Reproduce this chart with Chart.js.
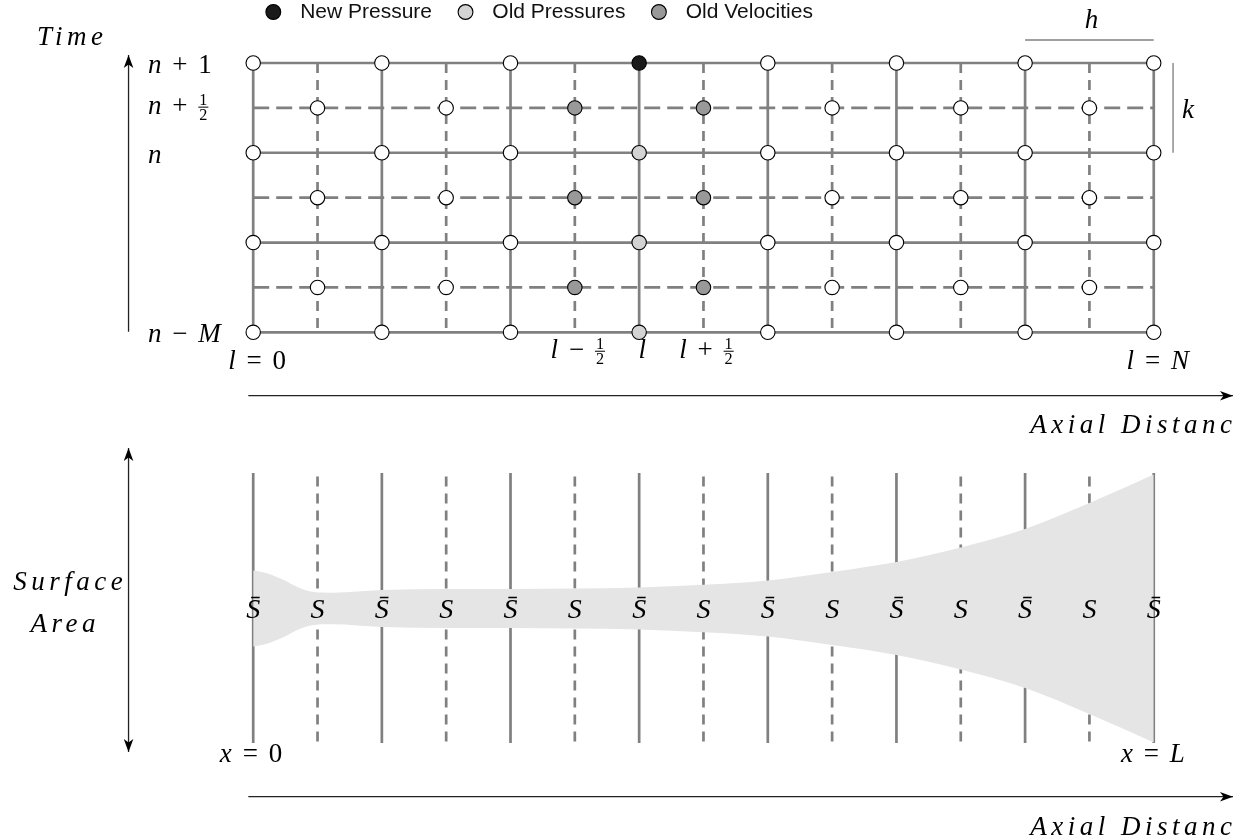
<!DOCTYPE html>
<html>
<head>
<meta charset="utf-8">
<script src="https://cdn.jsdelivr.net/npm/chart.js@4.4.1/dist/chart.umd.min.js"></script>
<style>
  html, body { margin: 0; padding: 0; background: #fff; }
  #wrap { width: 1249px; height: 839px; }
</style>
</head>
<body>
<div id="wrap"><canvas id="grid" width="1249" height="839"></canvas></div>
<script>
// staggered grid: pressure nodes on whole steps, velocity nodes on half steps
const pressureCols = [0, 1, 2, 3, 4, 5, 6, 7];
const velocityCols = [0.5, 1.5, 2.5, 3.5, 4.5, 5.5, 6.5];
const fullSteps = [0, 1, 2, 3];
const halfSteps = [0.5, 1.5, 2.5];

const newPressureL = [3];
const newPressureT = [3];
const oldPressureL = [3, 3, 3];
const oldPressureT = [2, 1, 0];
const oldVelocityL = [2.5, 3.5, 2.5, 3.5, 2.5, 3.5];
const oldVelocityT = [2.5, 2.5, 1.5, 1.5, 0.5, 0.5];

const timeTickValues = [3, 2.5, 2, 0];
const timeTickLabels = ['n + 1', 'n + 1/2', 'n', 'n − M'];
const spaceTickValues = [0, 2.5, 3, 3.5, 7];
const spaceTickLabels = ['l = 0', 'l − 1/2', 'l', 'l + 1/2', 'l = N'];

// bore radius along the horn (lower panel)
const hornX = [0, 0.1, 0.23, 0.37, 0.47, 0.62, 1, 1.5, 2, 2.5, 3, 3.5, 4, 4.5, 5, 5.5, 6, 6.5, 7];
const hornR = [3.8, 3.55, 2.9, 2.0, 1.65, 1.58, 1.85, 1.95, 1.95, 2.0, 2.1, 2.37, 2.8, 3.65, 4.65, 6.1, 7.95, 10.55, 13.4];

const GREY = '#808080';
const serif = "'Liberation Serif', 'Times New Roman', serif";

function pts(ls, ts) { return ls.map((l, i) => ({x: l, y: ts[i]})); }
function isColoured(l, t) {
  const all = pts(newPressureL, newPressureT).concat(pts(oldPressureL, oldPressureT), pts(oldVelocityL, oldVelocityT));
  return all.some(p => p.x === l && p.y === t);
}

const plainNodes = [];
pressureCols.forEach(l => fullSteps.forEach(t => { if (!isColoured(l, t)) plainNodes.push({x: l, y: t}); }));
velocityCols.forEach(l => halfSteps.forEach(t => { if (!isColoured(l, t)) plainNodes.push({x: l, y: t}); }));

function nodeSet(label, data, fill) {
  return {
    label: label, data: data, showLine: false, clip: false,
    pointRadius: 7.2, pointHoverRadius: 7.2, pointBackgroundColor: fill,
    pointBorderColor: '#000', pointBorderWidth: 1.1,
    backgroundColor: fill, borderColor: '#000', borderWidth: 1.1
  };
}
function seg(data, dash, axis) {
  return {
    label: '', data: data, showLine: true, pointRadius: 0, clip: false,
    borderColor: GREY, borderWidth: 2.7, borderDash: dash || [], yAxisID: axis || 'y', fill: false
  };
}

const datasets = [
  nodeSet('New Pressure', pts(newPressureL, newPressureT), '#1a1a1a'),
  nodeSet('Old Pressures', pts(oldPressureL, oldPressureT), '#d3d3d3'),
  nodeSet('Old Velocities', pts(oldVelocityL, oldVelocityT), '#999999'),
  nodeSet('', plainNodes, '#ffffff'),
  {
    label: '', yAxisID: 'y2', data: hornX.map((x, i) => ({x: x, y: hornR[i]})),
    showLine: true, pointRadius: 0, borderWidth: 0, cubicInterpolationMode: 'monotone',
    fill: '+1', backgroundColor: '#e5e5e5', clip: false
  },
  {
    label: '', yAxisID: 'y2', data: hornX.map((x, i) => ({x: x, y: -hornR[i]})),
    showLine: true, pointRadius: 0, borderWidth: 0, cubicInterpolationMode: 'monotone',
    fill: false, clip: false
  }
];

const lFirst = pressureCols[0], lLast = pressureCols[pressureCols.length - 1];
fullSteps.forEach(t => datasets.push(seg([{x: lFirst, y: t}, {x: lLast, y: t}])));
halfSteps.forEach(t => datasets.push(seg([{x: lFirst, y: t}, {x: lLast, y: t}], [16, 7])));
pressureCols.forEach(l => datasets.push(seg([{x: l, y: 0}, {x: l, y: 3}])));
velocityCols.forEach(l => datasets.push(seg([{x: l, y: 3}, {x: l, y: 0}], [10, 7])));
pressureCols.forEach(l => datasets.push(seg([{x: l, y: 13.55}, {x: l, y: -13.45}], [], 'y2')));
velocityCols.forEach(l => datasets.push(seg([{x: l, y: 13.2}, {x: l, y: -13.45}], [10, 7], 'y2')));

function isLetter(p) { return /^[A-Za-z]\u0304?$/.test(p); }

function drawMath(ctx, str, x, base, align, size) {
  const parts = str.split(' ');
  const gap = size * 0.4, small = size * 0.6;
  const widths = parts.map(p => {
    if (p === '1/2') { ctx.font = small + 'px ' + serif; return ctx.measureText('2').width + 2; }
    ctx.font = (isLetter(p) ? 'italic ' : '') + size + 'px ' + serif;
    return ctx.measureText(p).width;
  });
  const total = widths.reduce((a, b) => a + b, 0) + gap * (parts.length - 1);
  let cx = align === 'center' ? x - total / 2 : (align === 'right' ? x - total : x);
  ctx.textAlign = 'left';
  ctx.textBaseline = 'alphabetic';
  parts.forEach((p, i) => {
    if (p === '1/2') {
      const axis = base - size * 0.25;
      ctx.font = small + 'px ' + serif;
      ctx.fillText('1', cx + 1, axis - 2);
      ctx.fillText('2', cx + 1, axis + 13);
      ctx.fillRect(cx, axis - 0.5, widths[i], 1);
    } else {
      ctx.font = (isLetter(p) ? 'italic ' : '') + size + 'px ' + serif;
      ctx.fillText(p, cx, base);
    }
    cx += widths[i] + gap;
  });
}

function drawWord(ctx, str, x, base, align, size) {
  ctx.font = 'italic ' + size + 'px ' + serif;
  ctx.letterSpacing = '4.5px';
  ctx.textAlign = align;
  ctx.textBaseline = 'alphabetic';
  ctx.fillText(str, align === 'right' ? x + 4.5 : x + 2.25, base);
  ctx.letterSpacing = '0px';
}

function arrowHead(ctx, x, y, ang) {
  ctx.save();
  ctx.translate(x, y);
  ctx.rotate(ang);
  ctx.beginPath();
  ctx.moveTo(0, 0);
  ctx.lineTo(-13, -4.8);
  ctx.lineTo(-9.5, 0);
  ctx.lineTo(-13, 4.8);
  ctx.closePath();
  ctx.fill();
  ctx.restore();
}

function arrow(ctx, x1, y1, x2, y2, both) {
  ctx.beginPath();
  ctx.moveTo(x1, y1);
  ctx.lineTo(x2, y2);
  ctx.stroke();
  arrowHead(ctx, x2, y2, Math.atan2(y2 - y1, x2 - x1));
  if (both) arrowHead(ctx, x1, y1, Math.atan2(y1 - y2, x1 - x2));
}

const annotations = {
  id: 'annotations',
  afterDatasetsDraw(chart) {
    const ctx = chart.ctx;
    const X = v => chart.scales.x.getPixelForValue(v);
    const T = v => chart.scales.y.getPixelForValue(v);
    const S = v => chart.scales.y2.getPixelForValue(v);
    ctx.save();
    ctx.fillStyle = '#000';
    ctx.strokeStyle = '#222';
    ctx.lineWidth = 1.3;

    // axes
    arrow(ctx, X(-0.969), T(0.007), X(-0.969), T(3.089));
    arrow(ctx, X(-0.038), T(-0.706), X(7.616), T(-0.706));
    arrow(ctx, X(-0.969), S(16.05), X(-0.969), S(-14.35), true);
    arrow(ctx, X(-0.038), S(-18.82), X(7.616), S(-18.82));

    drawWord(ctx, 'Time', X(-1.424), T(3.2), 'center', 27);
    drawWord(ctx, 'Axial Distanc', X(7.608), T(-1.122), 'right', 27);
    drawWord(ctx, 'Surface', X(-1.44), S(1.85), 'center', 27);
    drawWord(ctx, 'Area', X(-1.478), S(-2.35), 'center', 27);
    drawWord(ctx, 'Axial Distanc', X(7.608), S(-22.65), 'right', 27);

    // tick labels
    timeTickValues.forEach((t, i) => {
      const lab = timeTickLabels[i];
      const off = lab.indexOf('1/2') >= 0 ? 6 : 10;
      drawMath(ctx, lab, X(-0.818), T(t) + off, 'left', 27);
    });
    spaceTickValues.forEach((l, i) => {
      const lab = spaceTickLabels[i];
      const end = lab.indexOf('=') >= 0;
      drawMath(ctx, lab, X(l) + (end ? 4 : 3), T(end ? -0.408 : -0.286), 'center', 27);
    });
    drawMath(ctx, 'x = 0', X(-0.017), S(-15.35), 'center', 27);
    drawMath(ctx, 'x = L', X(6.994), S(-15.35), 'center', 27);

    // cell size markers
    ctx.strokeStyle = GREY;
    ctx.lineWidth = 1.5;
    ctx.beginPath();
    ctx.moveTo(X(6), T(3.256));
    ctx.lineTo(X(7), T(3.256));
    ctx.stroke();
    ctx.strokeStyle = '#555';
    ctx.lineWidth = 1;
    ctx.beginPath();
    ctx.moveTo(X(7.15), T(3));
    ctx.lineTo(X(7.15), T(2));
    ctx.stroke();
    drawMath(ctx, 'h', X(6.5) + 2, T(3.39), 'center', 27);
    drawMath(ctx, 'k', X(7.266), T(2.387), 'center', 27);

    // section labels
    pressureCols.forEach(l => drawMath(ctx, 'S\u0304', X(l), S(-0.95), 'center', 28));
    velocityCols.forEach(l => drawMath(ctx, 'S', X(l), S(-0.95), 'center', 28));
    ctx.restore();
  }
};

new Chart(document.getElementById('grid'), {
  type: 'scatter',
  data: { datasets: datasets },
  plugins: [annotations],
  options: {
    responsive: false,
    animation: false,
    devicePixelRatio: 1,
    events: [],
    layout: { autoPadding: false, padding: { left: 239.8, right: 0, top: -21.5, bottom: 0 } },
    scales: {
      x: { type: 'linear', display: false, min: -0.1042, max: 7.7404 },
      y: { type: 'linear', display: false, min: -5.6444, max: 3.3398 },
      y2: { type: 'linear', display: false, min: -23.05, max: 57.6 }
    },
    plugins: {
      tooltip: { enabled: false },
      legend: {
        position: 'top',
        align: 'start',
        labels: {
          usePointStyle: true,
          pointStyle: 'circle',
          boxHeight: 10.5,
          padding: 23,
          color: '#111',
          font: { family: "'Liberation Sans', Arial, sans-serif", size: 21 },
          filter: item => item.datasetIndex < 3,
          generateLabels: chart => Chart.defaults.plugins.legend.labels.generateLabels(chart)
            .map(item => Object.assign(item, { text: ' ' + item.text }))
        }
      }
    }
  }
});
</script>
</body>
</html>
